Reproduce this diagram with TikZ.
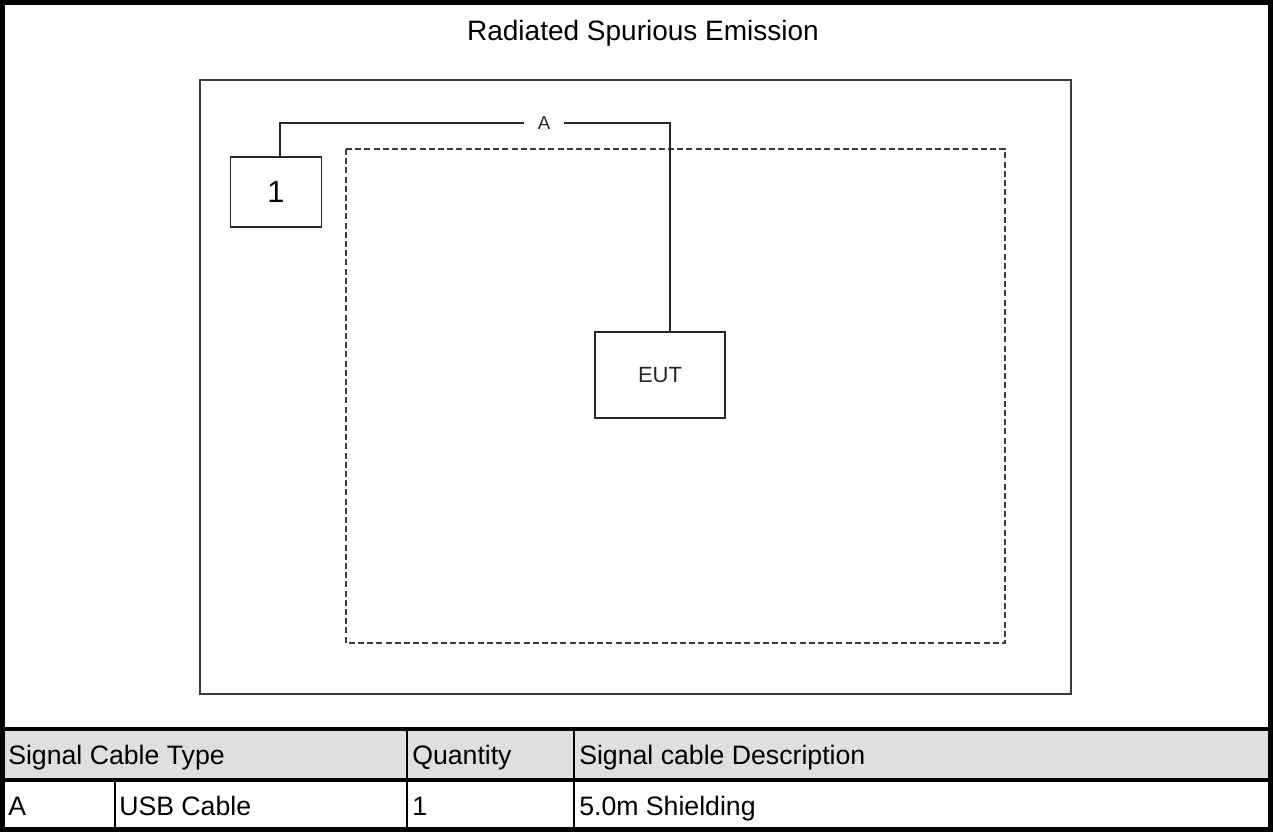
\documentclass[tikz,border=0pt]{standalone}
\usepackage{fontspec}
\setmainfont{Liberation Sans}
\definecolor{hdrgray}{RGB}{223,223,223}
\definecolor{linegray}{RGB}{60,60,60}
\begin{document}
\begin{tikzpicture}[x=0.75pt,y=-0.75pt,
  frame/.style={draw=black,line width=3.75pt},
  tabline/.style={draw=black,line width=3pt},
  tabvline/.style={draw=black,line width=1.6pt},
  setup/.style={draw=linegray,line width=1.2pt},
  dashbox/.style={draw=linegray,line width=1.1pt,dash pattern=on 4.5pt off 2.4pt},
  unitbox/.style={draw=black!85,line width=1.3pt,inner sep=0pt},
  cable/.style={draw=black!85,line width=1.2pt},
  celltext/.style={anchor=base west,inner sep=0pt,font=\fontsize{20}{24}\selectfont}]
\useasboundingbox (0,0) rectangle (1273,832);

% title
\node[anchor=base,inner sep=0pt,font=\fontsize{21}{25}\selectfont] (title) at (643,40) {Radiated Spurious Emission};

% setup area
\draw[setup] (200,80) rectangle (1071,694);
\draw[dashbox] (346,149) rectangle (1005,643);

% units
\node[unitbox,minimum width=68.25pt,minimum height=52.5pt,font=\fontsize{23}{26}\selectfont] (box1) at (276,192) {1};
\node[unitbox,minimum width=97.5pt,minimum height=64.5pt,font=\fontsize{16.5}{19}\selectfont,text=black!85] (eut) at (660,375) {EUT};

% cable A
\node[inner sep=0pt,minimum width=30pt,minimum height=12pt,font=\fontsize{14}{16}\selectfont,text=black!85] (A) at (544,123) {A};
\draw[cable] ([xshift=3pt]box1.north) |- (A.west);
\draw[cable] (A.east) -| ([xshift=7.5pt]eut.north);

% table
\fill[hdrgray] (0,729) rectangle (1273,780);
\draw[tabline] (0,729) -- (1273,729);
\draw[tabline] (0,780) -- (1273,780);
\draw[tabvline] (407,729) -- (407,830);
\draw[tabvline] (574,729) -- (574,830);
\draw[tabvline] (115,780) -- (115,830);

\node[celltext] (h1) at (8,764) {Signal Cable Type};
\node[celltext] (h2) at (412,764) {Quantity};
\node[celltext] (h3) at (579,764) {Signal cable Description};
\node[celltext] (d1) at (8,815) {A};
\node[celltext] (d2) at (119,815) {USB Cable};
\node[celltext] (d3) at (412,815) {1};
\node[celltext] (d4) at (579,815) {5.0m Shielding};

% outer frame
\draw[frame] (2.5,2.5) rectangle (1270.5,829.5);
\end{tikzpicture}
\end{document}
